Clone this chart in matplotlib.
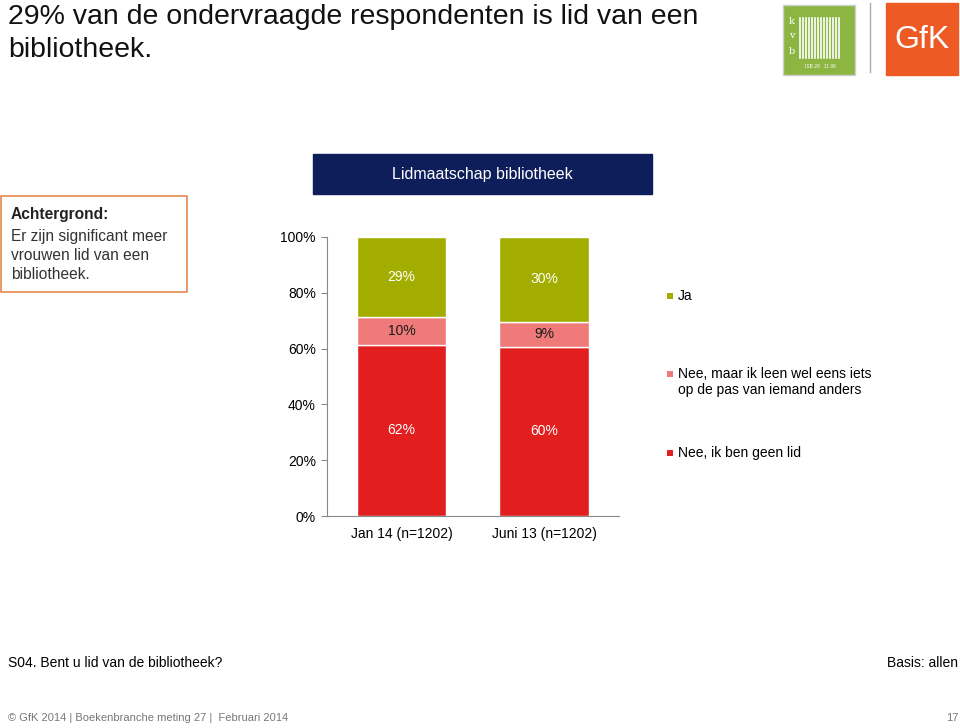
import matplotlib.pyplot as plt
from matplotlib.patches import Rectangle

plt.rcParams['font.family'] = ['Liberation Sans', 'DejaVu Sans']

# data
categories = ["Jan 14 (n=1202)", "Juni 13 (n=1202)"]
series_names = ["Nee, ik ben geen lid",
                "Nee, maar ik leen wel eens iets\nop de pas van iemand anders",
                "Ja"]
geen_lid = [62, 60]
leen_pas = [10, 9]
ja = [29, 30]
series_vals = [geen_lid, leen_pas, ja]
series_colors = ["#E21E1E", "#EF7A7A", "#A2AD00"]
label_colors = ["white", "#1a1a1a", "white"]
yticks = [0, 20, 40, 60, 80, 100]

W, H = 960, 728
fig = plt.figure(figsize=(W / 100, H / 100), dpi=100)


def fx(px):
    return px / W


def fy(py):
    return 1 - py / H


# titles
fig.text(fx(8), fy(4), "29% van de ondervraagde respondenten is lid van een\nbibliotheek.",
         fontsize=20.5, va='top', ha='left', linespacing=1.36, color='#111111')
fig.text(fx(8), fy(663), "S04. Bent u lid van de bibliotheek?", fontsize=10, va='center')
fig.text(fx(958), fy(663), "Basis: allen", fontsize=10, va='center', ha='right')
fig.text(fx(8), fy(718), "\u00a9 GfK 2014 | Boekenbranche meting 27 |  Februari 2014",
         fontsize=8, va='center', color='#777777')
fig.text(fx(958), fy(718), "17", fontsize=8, va='center', ha='right', color='#777777')

# header box
fig.patches.append(Rectangle((fx(313), fy(194)), fx(652) - fx(313), fy(154) - fy(194),
                             transform=fig.transFigure, facecolor='#0E1E5B',
                             edgecolor='#0E1E5B'))
fig.text(fx(482), fy(174), "Lidmaatschap bibliotheek", color='white', fontsize=11.5,
         ha='center', va='center')

# background box
fig.patches.append(Rectangle((fx(1), fy(292)), fx(187) - fx(1), fy(196) - fy(292),
                             transform=fig.transFigure, facecolor='white',
                             edgecolor='#E8864E', linewidth=1.2))
fig.text(fx(11), fy(214), "Achtergrond:", fontsize=11.2, va='center', color='#222222',
         fontweight='bold')
fig.text(fx(11), fy(229), "Er zijn significant meer\nvrouwen lid van een\nbibliotheek.",
         fontsize=11.2, va='top', linespacing=1.32, color='#333333')

# logos
fig.patches.append(Rectangle((fx(783), fy(75)), fx(72), fy(0) - fy(70),
                             transform=fig.transFigure, facecolor='#8CB542',
                             edgecolor='#cfcfcf', linewidth=1))
for i in range(14):
    xx = 800 + i * 3
    fig.add_artist(plt.Line2D([fx(xx), fx(xx)], [fy(58), fy(18)],
                              color='white', linewidth=1.2, transform=fig.transFigure))
for t, yy in [("k", 22), ("v", 36), ("b", 52)]:
    fig.text(fx(792), fy(yy), t, color='white', fontsize=7, ha='center', va='center',
             family='DejaVu Serif')
fig.text(fx(820), fy(66), "ISB 28   11 06", color='white', fontsize=3.5, ha='center',
         va='center')
fig.add_artist(plt.Line2D([fx(870), fx(870)], [fy(3), fy(72)], color='#aaaaaa',
                          linewidth=1, transform=fig.transFigure))
fig.patches.append(Rectangle((fx(886), fy(75)), fx(72), fy(0) - fy(72),
                             transform=fig.transFigure, facecolor='#EE5A24',
                             edgecolor='#EE5A24'))
fig.text(fx(922), fy(40), "GfK", color='white', fontsize=23, ha='center', va='center')

# chart: 100% stacked, each bar scaled to its own total
ax = fig.add_axes([fx(327), fy(516), fx(618.5) - fx(327), fy(237) - fy(516)])
x = range(len(categories))
totals = [sum(v[i] for v in series_vals) for i in x]
bottom = [0, 0]
for vals, col, lc in zip(series_vals, series_colors, label_colors):
    heights = [v * 100 / t for v, t in zip(vals, totals)]
    ax.bar(x, heights, bottom=bottom, width=0.625, color=col, edgecolor='white',
           linewidth=1)
    for xi, v, h, b in zip(x, vals, heights, bottom):
        ax.text(xi, b + h / 2, f"{v}%", ha='center', va='center', color=lc, fontsize=10)
    bottom = [b + h for b, h in zip(bottom, heights)]

ax.set_xlim(-0.523, 1.523)
ax.set_ylim(0, 100)
ax.set_yticks(yticks)
ax.set_yticklabels([f"{t}%" for t in yticks], fontsize=10)
ax.set_xticks(list(x))
ax.set_xticklabels(categories, fontsize=10)
ax.tick_params(axis='x', length=0, pad=8)
ax.tick_params(axis='y', length=4, color='#888888', pad=4)
for s in ['top', 'right']:
    ax.spines[s].set_visible(False)
ax.spines['left'].set_color('#888888')
ax.spines['bottom'].set_color('#888888')

# legend
legend_y = [453, 382, 296]
marker_y = [453, 374, 296]
for name, col, ly, my in zip(series_names, series_colors, legend_y, marker_y):
    fig.patches.append(Rectangle((fx(667), fy(my + 3)), fx(6), fy(0) - fy(6),
                                 transform=fig.transFigure, facecolor=col,
                                 edgecolor='none'))
    fig.text(fx(678), fy(ly), name, fontsize=10, va='center', linespacing=1.2)

fig.savefig("out.png", dpi=100)
